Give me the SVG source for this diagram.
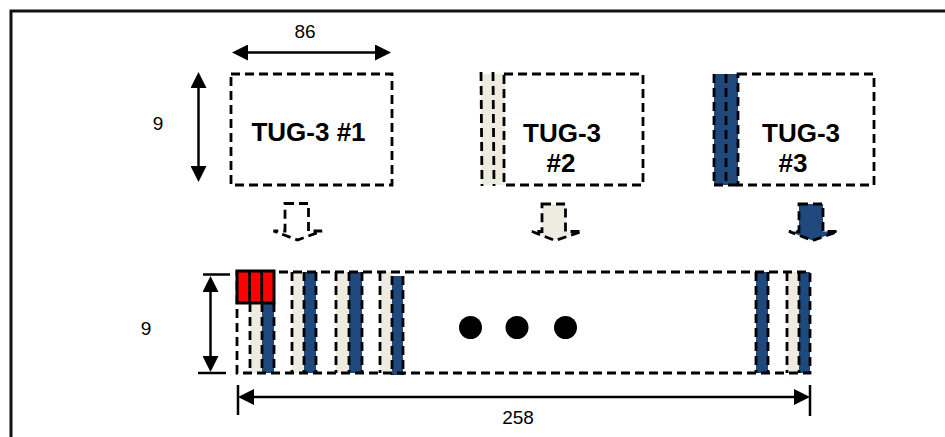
<svg xmlns="http://www.w3.org/2000/svg" width="945" height="437" viewBox="0 0 945 437">
  <style>
    .dash { fill: none; stroke: #000; stroke-width: 2.8; stroke-dasharray: 9 5; }
    .dashf { stroke: #000; stroke-width: 2.8; stroke-dasharray: 9 5; }
    .blue { fill: #1f497d; }
    .tan { fill: #eeece1; }
    .dim { stroke: #000; stroke-width: 2.5; fill: none; }
    .lbl { font-family: "Liberation Sans", Arial, sans-serif; font-size: 19px; fill: #000; text-anchor: middle; }
    .big { font-family: "Liberation Sans", Arial, sans-serif; font-size: 26px; font-weight: bold; fill: #000; text-anchor: middle; }
  </style>
  <defs>
    <marker id="ah" viewBox="0 -8 16 16" refX="0" refY="0" markerWidth="16" markerHeight="16" markerUnits="userSpaceOnUse" orient="auto-start-reverse">
      <path d="M0,-8 L16,0 L0,8 z" fill="#000"/>
    </marker>
  </defs>

  <rect width="945" height="437" fill="#fff"/>
  <!-- outer frame, running past the right and bottom edges -->
  <rect x="11" y="11" width="1000" height="1000" fill="none" stroke="#111" stroke-width="3"/>

  <!-- TUG-3 #1 -->
  <g id="tug3-1">
    <rect class="dash" x="231" y="74" width="161" height="111"/>
    <text class="big" x="308.5" y="141">TUG-3 #1</text>
  </g>

  <!-- TUG-3 #2 with two leading fixed-stuff columns -->
  <g id="tug3-2">
    <rect class="tan" x="481" y="74" width="24" height="111"/>
    <line class="dash" x1="481" y1="72" x2="482" y2="186"/>
    <line class="dash" x1="493" y1="72" x2="494" y2="186"/>
    <rect class="dash" x="504" y="74" width="139" height="111"/>
    <text class="big" x="562" y="141.5">TUG-3</text>
    <text class="big" x="561" y="171.5">#2</text>
  </g>

  <!-- TUG-3 #3 with two leading fixed-stuff columns -->
  <g id="tug3-3">
    <rect class="blue" x="714" y="74" width="24" height="111"/>
    <line class="dash" x1="714" y1="74" x2="714" y2="186"/>
    <line class="dash" x1="726" y1="74" x2="726" y2="186"/>
    <rect class="dash" x="738" y="74" width="136" height="111"/>
    <line class="dash" x1="714" y1="185" x2="738" y2="185"/>
    <text class="big" x="801" y="141.5">TUG-3</text>
    <text class="big" x="793" y="171.5">#3</text>
  </g>

  <!-- multiplexed frame: 258 columns -->
  <g id="frame-258">
    <!-- column pairs after the overhead block -->
    <rect class="tan" x="250" y="303" width="12" height="70"/>
    <rect class="blue" x="262" y="303" width="12" height="70"/>
    <rect class="tan" x="292" y="272" width="12" height="101"/>
    <rect class="blue" x="304" y="272" width="12" height="101"/>
    <rect class="tan" x="336" y="272" width="13" height="101"/>
    <rect class="blue" x="349" y="272" width="13" height="101"/>
    <rect class="tan" x="380" y="272" width="12" height="101"/>
    <rect class="blue" x="392" y="276" width="11" height="99"/>
    <rect class="blue" x="756" y="272" width="12" height="101"/>
    <rect class="tan" x="787" y="272" width="12" height="101"/>
    <rect class="blue" x="799" y="272" width="11" height="101"/>

    <rect class="dash" x="237" y="272" width="573" height="101"/>
    <g class="dash">
      <line x1="250" y1="303" x2="250" y2="373"/>
      <line x1="262" y1="303" x2="262" y2="373"/>
      <line x1="274" y1="303" x2="274" y2="373"/>
      <line x1="292" y1="272" x2="292" y2="373"/>
      <line x1="304" y1="272" x2="304" y2="373"/>
      <line x1="316" y1="272" x2="316" y2="373"/>
      <line x1="336" y1="272" x2="336" y2="373"/>
      <line x1="349" y1="272" x2="349" y2="373"/>
      <line x1="362" y1="272" x2="362" y2="373"/>
      <line x1="380" y1="272" x2="380" y2="373"/>
      <line x1="392" y1="276" x2="392" y2="375"/>
      <line x1="403" y1="276" x2="403" y2="375"/>
      <line x1="756" y1="272" x2="756" y2="373"/>
      <line x1="768" y1="272" x2="768" y2="373"/>
      <line x1="787" y1="272" x2="787" y2="373"/>
      <line x1="799" y1="272" x2="799" y2="373"/>
    </g>

    <!-- overhead bytes -->
    <rect x="237" y="271" width="37" height="32" fill="#ff0000" stroke="#000" stroke-width="3"/>
    <line x1="249.5" y1="271" x2="249.5" y2="303" stroke="#000" stroke-width="2.8"/>
    <line x1="261.7" y1="271" x2="261.7" y2="303" stroke="#000" stroke-width="2.8"/>

    <circle cx="470.5" cy="327.5" r="11.5" fill="#000"/>
    <circle cx="517" cy="327.5" r="11.5" fill="#000"/>
    <circle cx="565.5" cy="327.5" r="11.5" fill="#000"/>
  </g>

  <!-- connectors: mapping arrows and dimension lines -->
  <g id="connectors">
    <path class="dash" fill="none" d="M285,203.5 H308.5 V231 H322 L297.5,240 L273.5,231 H285 Z"/>
    <path class="dashf tan" d="M542,204 H565.5 V231.5 H582 L555,240.5 L532,231.5 H542 Z"/>
    <path class="dashf blue" d="M799,204 H823 V231.5 H838 L812.5,240.5 L789,231.5 H799 Z"/>

    <line class="dim" x1="248" y1="52.5" x2="375" y2="52.5" marker-start="url(#ah)" marker-end="url(#ah)"/>
    <line class="dim" x1="198.5" y1="88" x2="198.5" y2="166" marker-start="url(#ah)" marker-end="url(#ah)"/>

    <line class="dim" x1="203" y1="274.5" x2="230" y2="274.5"/>
    <line class="dim" x1="198" y1="373" x2="226" y2="373"/>
    <line class="dim" x1="210.5" y1="292" x2="210.5" y2="356" marker-start="url(#ah)" marker-end="url(#ah)"/>

    <line class="dim" x1="238" y1="385" x2="238" y2="415"/>
    <line class="dim" x1="810" y1="385" x2="810" y2="416"/>
    <line class="dim" x1="254" y1="397" x2="794" y2="397" marker-start="url(#ah)" marker-end="url(#ah)"/>
  </g>

  <g id="labels">
    <text class="lbl" x="305" y="38">86</text>
    <text class="lbl" x="158" y="130">9</text>
    <text class="lbl" x="146" y="335">9</text>
    <text class="lbl" x="518" y="424">258</text>
  </g>
</svg>
